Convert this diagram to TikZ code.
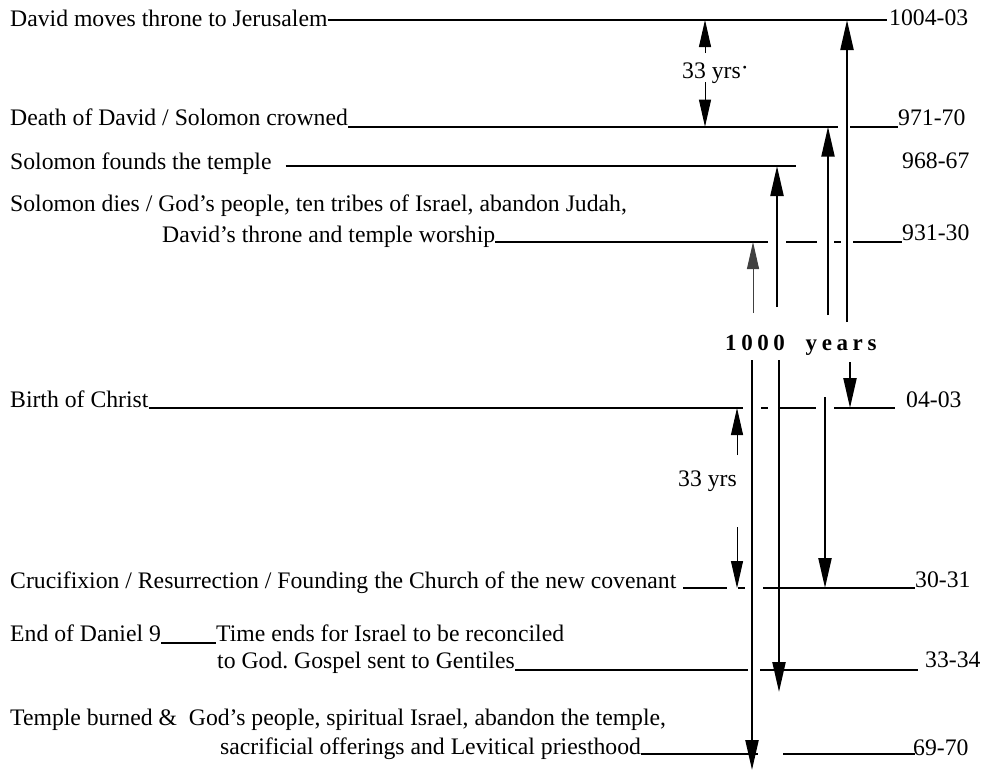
\documentclass[tikz,border=0pt]{standalone}
\usepackage{fontspec}
\setmainfont{Liberation Serif}
\newfontfamily\spacedfont[LetterSpace=20]{Liberation Serif}
\usetikzlibrary{arrows.meta}
\frenchspacing
\newcommand\evfont{\fontsize{23.7}{28}\selectfont}
\tikzset{
 event/.style={
 anchor=base west,
 inner sep=0pt,
 font=\evfont
 },
 datelabel/.style={
 anchor=base west,
 inner sep=0pt,
 font=\evfont
 },
 tline/.style={line width=2pt},
 tlinethin/.style={line width=1.2pt},
 spanarrow/.style={line width=2.2pt, -{Triangle[length=30pt,width=13pt]}},
 yrsarrow/.style={line width=1pt, -{Triangle[length=27pt,width=12pt]}}
}

\begin{document}
\begin{tikzpicture}[x=1pt,y=-1pt]
 \useasboundingbox (0,0) rectangle (984,772);

 \node[event] (throne) at (10,26) {David moves throne to Jerusalem};
 \node[event] (death) at (10,125) {Death of David / Solomon crowned};
 \node[event] (founds) at (10,169) {Solomon founds the temple};
 \node[event] (dies) at (10,211) {Solomon dies / God’s people, ten tribes of Israel, abandon Judah,};
 \node[event] (worship) at (162,242) {David’s throne and temple worship};
 \node[event] (birth) at (10,407) {Birth of Christ};
 \node[event] (cross) at (10,588) {Crucifixion / Resurrection / Founding the Church of the new covenant};
 \node[event] (daniel) at (10,641) {End of Daniel 9};
 \node[event] (timeends) at (216,641) {Time ends for Israel to be reconciled};
 \node[event] (gentiles) at (217,668) {to God. Gospel sent to Gentiles};
 \node[event] (burned) at (10,725) {Temple burned \&\ \ God’s people, spiritual Israel, abandon the temple,};
 \node[event] (priesthood) at (220,754) {sacrificial offerings and Levitical priesthood};

 \node[datelabel] (d1004) at (889,25) {1004-03};
 \node[datelabel] (d971) at (898,125) {971-70};
 \node[datelabel] (d968) at (902,168) {968-67};
 \node[datelabel] (d931) at (902,240) {931-30};
 \node[datelabel] (d04) at (906,407) {04-03};
 \node[datelabel] (d30) at (915,587) {30-31};
 \node[datelabel] (d33) at (925,667) {33-34};
 \node[datelabel] (d69) at (913,755) {69-70};

 \node[anchor=base west, inner sep=0pt, font=\spacedfont\bfseries\fontsize{23}{26}\selectfont] (span) at (725,350) {1000\ \ years};
 \node[event] (yrsup) at (682,78) {33 yrs\raisebox{.12em}{·}};
 \node[event, anchor=base east] (yrslow) at (737,486) {33 yrs};

 \draw[tline] (throne.east |- 0,20) -- (887,20);
 \draw[tline] (death.east |- 0,126.7) -- (838,126.7);
 \draw[tline] (850,126.7) -- (898,126.7);
 \draw[tlinethin] ([xshift=14pt]founds.east |- 0,166) -- (796,166);
 \draw[tline] (worship.east |- 0,242) -- (768,242);
 \draw[tline] (786,242) -- (817,242);
 \draw[tline] (834,242) -- (841,242);
 \draw[tline] (853,242) -- (902,242);
 \draw[tline] (birth.east |- 0,408) -- (743,408);
 \draw[tline] (761,408) -- (768,408);
 \draw[tline] (780,408) -- (816,408);
 \draw[tline] (834,408) -- (895,408);
 \draw[tline] ([xshift=7pt]cross.east |- 0,588) -- (727,588);
 \draw[tline] (738,588) -- (745,588);
 \draw[tline] (763,588) -- (915,588);
 \draw[tline] (daniel.east |- 0,643) -- (timeends.west |- 0,643);
 \draw[tline] (gentiles.east |- 0,670) -- (748,670);
 \draw[tline] (760,670) -- (918,670);
 \draw[tline] (priesthood.east |- 0,754) -- (758,754);
 \draw[line width=2.4pt] (783,754) -- (915,754);

 \draw[yrsarrow] (705,53) -- (705,20);
 \draw[yrsarrow] (705,82) -- (705,126.7);
 \draw[yrsarrow] (737,455) -- (737,408);
 \draw[yrsarrow] (737,527) -- (737,588);

 \draw[yrsarrow, draw=black!75] (753,313) -- (753,242);
 \draw[spanarrow] (777,307) -- (777,166);
 \draw[spanarrow] (828,315) -- (828,126.7);
 \draw[spanarrow] (847,322) -- (847,20);

 \draw[spanarrow] (752,360) -- (752,770);
 \draw[spanarrow] (779,360) -- (779,692);
 \draw[spanarrow] (825,397) -- (825,588);
 \draw[spanarrow] (850,362) -- (850,408);
\end{tikzpicture}
\end{document}
